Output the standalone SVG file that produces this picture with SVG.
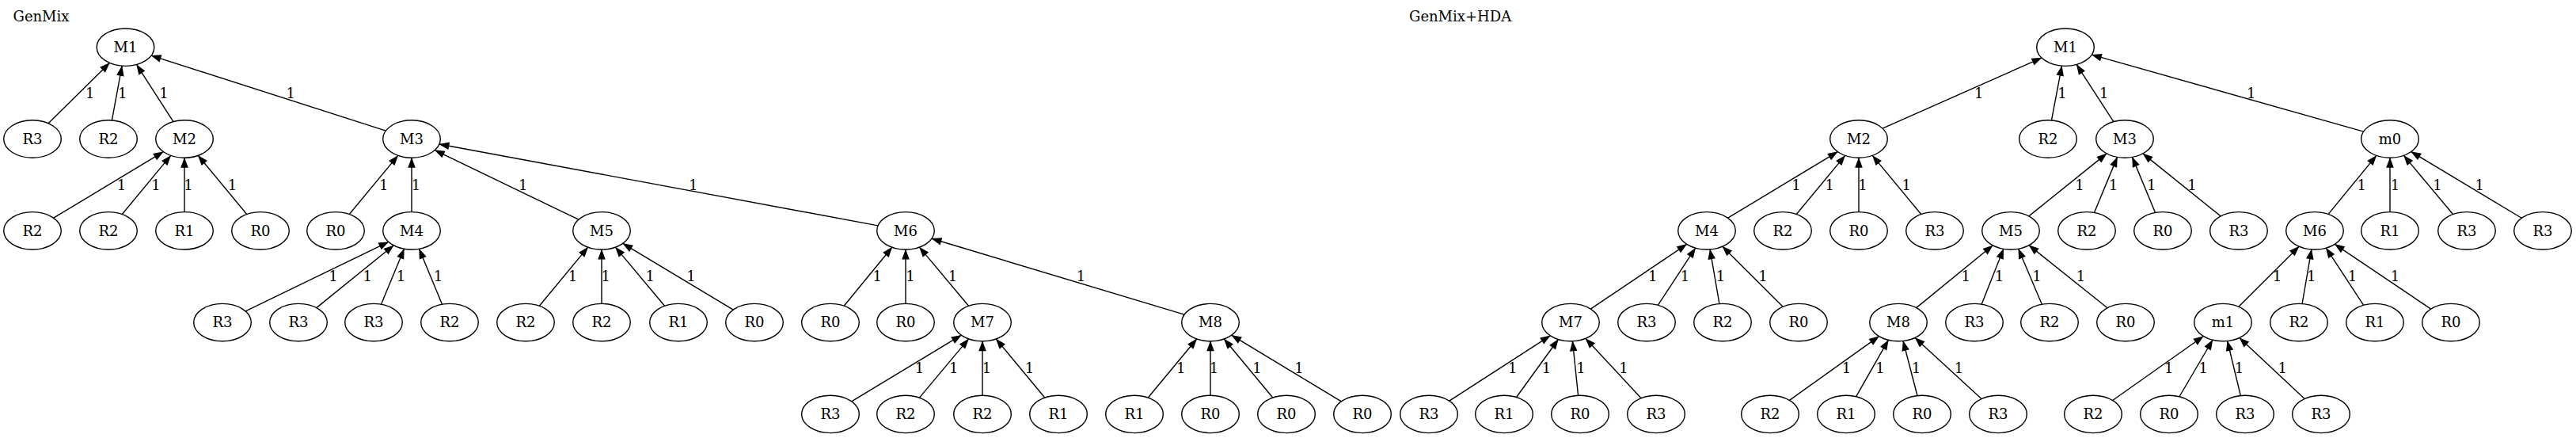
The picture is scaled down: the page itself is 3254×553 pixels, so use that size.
<svg xmlns="http://www.w3.org/2000/svg" width="3254" height="553" viewBox="0 0 3254 553">
<style>
.n ellipse{fill:none;stroke:#000;stroke-width:1.4}
text{font-family:"DejaVu Serif","Liberation Serif",serif;font-size:18px;fill:#000}
.n text{text-anchor:middle}
.e path{fill:none;stroke:#000;stroke-width:1.4;marker-end:url(#a)}
.l text{text-anchor:middle}
</style>
<defs>
<marker id="a" markerUnits="userSpaceOnUse" viewBox="-14 -6 15 12" refX="0" refY="0" markerWidth="15" markerHeight="12" orient="auto" overflow="visible">
<path d="M0.5,0 L-12.5,-4.8 L-12.5,4.8 Z" fill="#000" stroke="none"/>
</marker>
</defs>
<rect width="3254" height="553" fill="#fff"/>
<g opacity="0.999">
<text x="16.5" y="26.5">GenMix</text>
<text x="1780" y="26.5">GenMix+HDA</text>
<g class="e" id="edges">
<path d="M61.05,155.74L138.45,79.46"/>
<path d="M141.37,151.97L154.13,83.23"/>
<path d="M218.94,153.65L172.56,81.55"/>
<path d="M487.43,165.07L191.07,70.13"/>
<path d="M67.67,275.22L206.33,191.58"/>
<path d="M154.28,270.46L215.72,196.34"/>
<path d="M233,267.6L233,199.2"/>
<path d="M311.72,270.46L250.28,196.34"/>
<path d="M441.28,270.46L502.72,196.34"/>
<path d="M520,267.6L520,199.2"/>
<path d="M730.82,277.22L549.18,189.58"/>
<path d="M1109.08,284.82L554.92,181.98"/>
<path d="M310.16,392.97L490.84,305.43"/>
<path d="M399.78,388.65L497.22,309.75"/>
<path d="M481.48,384.22L510.52,314.18"/>
<path d="M558.52,384.22L529.48,314.18"/>
<path d="M681.28,386.26L742.72,312.14"/>
<path d="M760,383.4L760,315"/>
<path d="M839.58,386.3L777.42,312.1"/>
<path d="M926.27,391.06L786.73,307.34"/>
<path d="M1066.14,386.21L1126.86,312.19"/>
<path d="M1144,383.4L1144,315"/>
<path d="M1223.58,386.3L1161.42,312.1"/>
<path d="M1496.04,397.19L1176.96,301.21"/>
<path d="M1075.67,506.82L1214.33,423.18"/>
<path d="M1161.42,502.1L1223.58,427.9"/>
<path d="M1241,499.2L1241,430.8"/>
<path d="M1319.72,502.06L1258.28,427.94"/>
<path d="M1450.28,502.06L1511.72,427.94"/>
<path d="M1529,499.2L1529,430.8"/>
<path d="M1607.72,502.06L1546.28,427.94"/>
<path d="M1694.33,506.82L1555.67,423.18"/>
<path d="M2378.02,162.18L2578.98,73.02"/>
<path d="M2591.47,151.98L2604.53,83.22"/>
<path d="M2669.86,153.67L2623.14,81.53"/>
<path d="M2985.67,166.09L2642.33,69.11"/>
<path d="M2182.67,275.22L2321.33,191.58"/>
<path d="M2269.28,270.46L2330.72,196.34"/>
<path d="M2348,267.6L2348,199.2"/>
<path d="M2426.72,270.46L2365.28,196.34"/>
<path d="M2562.88,272.9L2661.12,193.9"/>
<path d="M2645.48,268.42L2674.52,198.38"/>
<path d="M2722.52,268.42L2693.48,198.38"/>
<path d="M2805.12,272.9L2706.88,193.9"/>
<path d="M2941.14,270.41L3001.86,196.39"/>
<path d="M3019,267.6L3019,199.2"/>
<path d="M3098.58,270.5L3036.42,196.3"/>
<path d="M3185.27,275.26L3045.73,191.54"/>
<path d="M2009.27,390.09L2130.73,308.31"/>
<path d="M2094.3,385.32L2141.7,313.08"/>
<path d="M2171.93,383.55L2160.07,314.85"/>
<path d="M2252.13,387.26L2175.87,311.14"/>
<path d="M2420.69,388.59L2517.31,309.81"/>
<path d="M2503.11,384.16L2530.89,314.24"/>
<path d="M2579.33,384.25L2549.67,314.15"/>
<path d="M2662.02,388.75L2562.98,309.65"/>
<path d="M2827.87,387.26L2904.13,311.14"/>
<path d="M2908.07,383.55L2919.93,314.85"/>
<path d="M2985.7,385.32L2938.3,313.08"/>
<path d="M3070.73,390.09L2949.27,308.31"/>
<path d="M1830.79,506.21L1958.21,423.79"/>
<path d="M1915.54,501.48L1968.46,428.52"/>
<path d="M1993.55,499.25L1986.45,430.75"/>
<path d="M2073.12,502.66L2002.88,427.34"/>
<path d="M2260.48,505.4L2373.52,424.6"/>
<path d="M2344.66,500.69L2385.34,429.31"/>
<path d="M2421.95,499.53L2404.05,430.47"/>
<path d="M2502.97,503.57L2419.03,426.43"/>
<path d="M2668.65,505.5L2783.35,424.5"/>
<path d="M2752.99,500.77L2795.01,429.23"/>
<path d="M2830.34,499.49L2813.66,430.51"/>
<path d="M2911.19,503.47L2828.81,426.53"/>
</g>
<g class="l" id="edge-labels">
<text x="113.7" y="123.8">1</text><text x="154.7" y="123.8">1</text><text x="207" y="123.8">1</text><text x="367.3" y="123.8">1</text>
<text x="153.5" y="239.6">1</text><text x="197" y="239.6">1</text><text x="238" y="239.6">1</text><text x="293.4" y="239.6">1</text>
<text x="484.7" y="239.6">1</text><text x="525.5" y="239.6">1</text><text x="660.7" y="239.6">1</text><text x="875.8" y="239.6">1</text>
<text x="421" y="355.4">1</text><text x="464.3" y="355.4">1</text><text x="506.6" y="355.4">1</text><text x="553.6" y="355.4">1</text>
<text x="723.5" y="355.4">1</text><text x="765.3" y="355.4">1</text><text x="821.2" y="355.4">1</text><text x="872.9" y="355.4">1</text>
<text x="1108.2" y="355.4">1</text><text x="1150" y="355.4">1</text><text x="1203.5" y="355.4">1</text><text x="1365.4" y="355.4">1</text>
<text x="1161.6" y="471.2">1</text><text x="1204.7" y="471.2">1</text><text x="1246.6" y="471.2">1</text><text x="1300.5" y="471.2">1</text>
<text x="1491.7" y="471.2">1</text><text x="1533.6" y="471.2">1</text><text x="1588" y="471.2">1</text><text x="1641" y="471.2">1</text>
<text x="2499.7" y="123.8">1</text><text x="2604.9" y="123.8">1</text><text x="2657.7" y="123.8">1</text><text x="2843.8" y="123.8">1</text>
<text x="2268.9" y="239.6">1</text><text x="2311.2" y="239.6">1</text><text x="2353" y="239.6">1</text><text x="2408.2" y="239.6">1</text>
<text x="2626.9" y="239.6">1</text><text x="2669.5" y="239.6">1</text><text x="2717.7" y="239.6">1</text><text x="2769" y="239.6">1</text>
<text x="2983.3" y="239.6">1</text><text x="3025.4" y="239.6">1</text><text x="3079" y="239.6">1</text><text x="3132.3" y="239.6">1</text>
<text x="2087.8" y="355.4">1</text><text x="2128.6" y="355.4">1</text><text x="2173.5" y="355.4">1</text><text x="2227" y="355.4">1</text>
<text x="2483.3" y="355.4">1</text><text x="2525.4" y="355.4">1</text><text x="2573" y="355.4">1</text><text x="2628.5" y="355.4">1</text>
<text x="2876.6" y="355.4">1</text><text x="2919.7" y="355.4">1</text><text x="2971.5" y="355.4">1</text><text x="3025.4" y="355.4">1</text>
<text x="1910.7" y="471.2">1</text><text x="1953.6" y="471.2">1</text><text x="1997" y="471.2">1</text><text x="2051" y="471.2">1</text>
<text x="2332.6" y="471.2">1</text><text x="2375" y="471.2">1</text><text x="2420.4" y="471.2">1</text><text x="2474.5" y="471.2">1</text>
<text x="2739.7" y="471.2">1</text><text x="2783.3" y="471.2">1</text><text x="2828.4" y="471.2">1</text><text x="2883.3" y="471.2">1</text>
</g>
<g class="n" id="L_M1"><ellipse cx="158.5" cy="59.7" rx="36.3" ry="23.7"/><text x="158.5" y="66">M1</text></g>
<g class="n" id="L_R3_a"><ellipse cx="41" cy="175.5" rx="36.3" ry="23.7"/><text x="41" y="181.8">R3</text></g>
<g class="n" id="L_R2_a"><ellipse cx="137" cy="175.5" rx="36.3" ry="23.7"/><text x="137" y="181.8">R2</text></g>
<g class="n" id="L_M2"><ellipse cx="233" cy="175.5" rx="36.3" ry="23.7"/><text x="233" y="181.8">M2</text></g>
<g class="n" id="L_M3"><ellipse cx="520" cy="175.5" rx="36.3" ry="23.7"/><text x="520" y="181.8">M3</text></g>
<g class="n" id="L_R2_b"><ellipse cx="41" cy="291.3" rx="36.3" ry="23.7"/><text x="41" y="297.6">R2</text></g>
<g class="n" id="L_R2_c"><ellipse cx="137" cy="291.3" rx="36.3" ry="23.7"/><text x="137" y="297.6">R2</text></g>
<g class="n" id="L_R1_a"><ellipse cx="233" cy="291.3" rx="36.3" ry="23.7"/><text x="233" y="297.6">R1</text></g>
<g class="n" id="L_R0_a"><ellipse cx="329" cy="291.3" rx="36.3" ry="23.7"/><text x="329" y="297.6">R0</text></g>
<g class="n" id="L_R0_b"><ellipse cx="424" cy="291.3" rx="36.3" ry="23.7"/><text x="424" y="297.6">R0</text></g>
<g class="n" id="L_M4"><ellipse cx="520" cy="291.3" rx="36.3" ry="23.7"/><text x="520" y="297.6">M4</text></g>
<g class="n" id="L_M5"><ellipse cx="760" cy="291.3" rx="36.3" ry="23.7"/><text x="760" y="297.6">M5</text></g>
<g class="n" id="L_M6"><ellipse cx="1144" cy="291.3" rx="36.3" ry="23.7"/><text x="1144" y="297.6">M6</text></g>
<g class="n" id="L_R3_b"><ellipse cx="281" cy="407.1" rx="36.3" ry="23.7"/><text x="281" y="413.4">R3</text></g>
<g class="n" id="L_R3_c"><ellipse cx="377" cy="407.1" rx="36.3" ry="23.7"/><text x="377" y="413.4">R3</text></g>
<g class="n" id="L_R3_d"><ellipse cx="472" cy="407.1" rx="36.3" ry="23.7"/><text x="472" y="413.4">R3</text></g>
<g class="n" id="L_R2_d"><ellipse cx="568" cy="407.1" rx="36.3" ry="23.7"/><text x="568" y="413.4">R2</text></g>
<g class="n" id="L_R2_e"><ellipse cx="664" cy="407.1" rx="36.3" ry="23.7"/><text x="664" y="413.4">R2</text></g>
<g class="n" id="L_R2_f"><ellipse cx="760" cy="407.1" rx="36.3" ry="23.7"/><text x="760" y="413.4">R2</text></g>
<g class="n" id="L_R1_b"><ellipse cx="857" cy="407.1" rx="36.3" ry="23.7"/><text x="857" y="413.4">R1</text></g>
<g class="n" id="L_R0_c"><ellipse cx="953" cy="407.1" rx="36.3" ry="23.7"/><text x="953" y="413.4">R0</text></g>
<g class="n" id="L_R0_d"><ellipse cx="1049" cy="407.1" rx="36.3" ry="23.7"/><text x="1049" y="413.4">R0</text></g>
<g class="n" id="L_R0_e"><ellipse cx="1144" cy="407.1" rx="36.3" ry="23.7"/><text x="1144" y="413.4">R0</text></g>
<g class="n" id="L_M7"><ellipse cx="1241" cy="407.1" rx="36.3" ry="23.7"/><text x="1241" y="413.4">M7</text></g>
<g class="n" id="L_M8"><ellipse cx="1529" cy="407.1" rx="36.3" ry="23.7"/><text x="1529" y="413.4">M8</text></g>
<g class="n" id="L_R3_e"><ellipse cx="1049" cy="522.9" rx="36.3" ry="23.7"/><text x="1049" y="529.2">R3</text></g>
<g class="n" id="L_R2_g"><ellipse cx="1144" cy="522.9" rx="36.3" ry="23.7"/><text x="1144" y="529.2">R2</text></g>
<g class="n" id="L_R2_h"><ellipse cx="1241" cy="522.9" rx="36.3" ry="23.7"/><text x="1241" y="529.2">R2</text></g>
<g class="n" id="L_R1_c"><ellipse cx="1337" cy="522.9" rx="36.3" ry="23.7"/><text x="1337" y="529.2">R1</text></g>
<g class="n" id="L_R1_d"><ellipse cx="1433" cy="522.9" rx="36.3" ry="23.7"/><text x="1433" y="529.2">R1</text></g>
<g class="n" id="L_R0_f"><ellipse cx="1529" cy="522.9" rx="36.3" ry="23.7"/><text x="1529" y="529.2">R0</text></g>
<g class="n" id="L_R0_g"><ellipse cx="1625" cy="522.9" rx="36.3" ry="23.7"/><text x="1625" y="529.2">R0</text></g>
<g class="n" id="L_R0_h"><ellipse cx="1721" cy="522.9" rx="36.3" ry="23.7"/><text x="1721" y="529.2">R0</text></g>
<g class="n" id="H_M1"><ellipse cx="2609" cy="59.7" rx="36.3" ry="23.7"/><text x="2609" y="66">M1</text></g>
<g class="n" id="H_M2"><ellipse cx="2348" cy="175.5" rx="36.3" ry="23.7"/><text x="2348" y="181.8">M2</text></g>
<g class="n" id="H_R2_a"><ellipse cx="2587" cy="175.5" rx="36.3" ry="23.7"/><text x="2587" y="181.8">R2</text></g>
<g class="n" id="H_M3"><ellipse cx="2684" cy="175.5" rx="36.3" ry="23.7"/><text x="2684" y="181.8">M3</text></g>
<g class="n" id="H_m0"><ellipse cx="3019" cy="175.5" rx="36.3" ry="23.7"/><text x="3019" y="181.8">m0</text></g>
<g class="n" id="H_M4"><ellipse cx="2156" cy="291.3" rx="36.3" ry="23.7"/><text x="2156" y="297.6">M4</text></g>
<g class="n" id="H_R2_b"><ellipse cx="2252" cy="291.3" rx="36.3" ry="23.7"/><text x="2252" y="297.6">R2</text></g>
<g class="n" id="H_R0_a"><ellipse cx="2348" cy="291.3" rx="36.3" ry="23.7"/><text x="2348" y="297.6">R0</text></g>
<g class="n" id="H_R3_a"><ellipse cx="2444" cy="291.3" rx="36.3" ry="23.7"/><text x="2444" y="297.6">R3</text></g>
<g class="n" id="H_M5"><ellipse cx="2540" cy="291.3" rx="36.3" ry="23.7"/><text x="2540" y="297.6">M5</text></g>
<g class="n" id="H_R2_c"><ellipse cx="2636" cy="291.3" rx="36.3" ry="23.7"/><text x="2636" y="297.6">R2</text></g>
<g class="n" id="H_R0_b"><ellipse cx="2732" cy="291.3" rx="36.3" ry="23.7"/><text x="2732" y="297.6">R0</text></g>
<g class="n" id="H_R3_b"><ellipse cx="2828" cy="291.3" rx="36.3" ry="23.7"/><text x="2828" y="297.6">R3</text></g>
<g class="n" id="H_M6"><ellipse cx="2924" cy="291.3" rx="36.3" ry="23.7"/><text x="2924" y="297.6">M6</text></g>
<g class="n" id="H_R1_a"><ellipse cx="3019" cy="291.3" rx="36.3" ry="23.7"/><text x="3019" y="297.6">R1</text></g>
<g class="n" id="H_R3_c"><ellipse cx="3116" cy="291.3" rx="36.3" ry="23.7"/><text x="3116" y="297.6">R3</text></g>
<g class="n" id="H_R3_d"><ellipse cx="3212" cy="291.3" rx="36.3" ry="23.7"/><text x="3212" y="297.6">R3</text></g>
<g class="n" id="H_M7"><ellipse cx="1984" cy="407.1" rx="36.3" ry="23.7"/><text x="1984" y="413.4">M7</text></g>
<g class="n" id="H_R3_e"><ellipse cx="2080" cy="407.1" rx="36.3" ry="23.7"/><text x="2080" y="413.4">R3</text></g>
<g class="n" id="H_R2_d"><ellipse cx="2176" cy="407.1" rx="36.3" ry="23.7"/><text x="2176" y="413.4">R2</text></g>
<g class="n" id="H_R0_c"><ellipse cx="2272" cy="407.1" rx="36.3" ry="23.7"/><text x="2272" y="413.4">R0</text></g>
<g class="n" id="H_M8"><ellipse cx="2398" cy="407.1" rx="36.3" ry="23.7"/><text x="2398" y="413.4">M8</text></g>
<g class="n" id="H_R3_f"><ellipse cx="2494" cy="407.1" rx="36.3" ry="23.7"/><text x="2494" y="413.4">R3</text></g>
<g class="n" id="H_R2_e"><ellipse cx="2589" cy="407.1" rx="36.3" ry="23.7"/><text x="2589" y="413.4">R2</text></g>
<g class="n" id="H_R0_d"><ellipse cx="2685" cy="407.1" rx="36.3" ry="23.7"/><text x="2685" y="413.4">R0</text></g>
<g class="n" id="H_m1"><ellipse cx="2808" cy="407.1" rx="36.3" ry="23.7"/><text x="2808" y="413.4">m1</text></g>
<g class="n" id="H_R2_f"><ellipse cx="2904" cy="407.1" rx="36.3" ry="23.7"/><text x="2904" y="413.4">R2</text></g>
<g class="n" id="H_R1_b"><ellipse cx="3000" cy="407.1" rx="36.3" ry="23.7"/><text x="3000" y="413.4">R1</text></g>
<g class="n" id="H_R0_e"><ellipse cx="3096" cy="407.1" rx="36.3" ry="23.7"/><text x="3096" y="413.4">R0</text></g>
<g class="n" id="H_R3_g"><ellipse cx="1805" cy="522.9" rx="36.3" ry="23.7"/><text x="1805" y="529.2">R3</text></g>
<g class="n" id="H_R1_c"><ellipse cx="1900" cy="522.9" rx="36.3" ry="23.7"/><text x="1900" y="529.2">R1</text></g>
<g class="n" id="H_R0_f"><ellipse cx="1996" cy="522.9" rx="36.3" ry="23.7"/><text x="1996" y="529.2">R0</text></g>
<g class="n" id="H_R3_h"><ellipse cx="2092" cy="522.9" rx="36.3" ry="23.7"/><text x="2092" y="529.2">R3</text></g>
<g class="n" id="H_R2_g"><ellipse cx="2236" cy="522.9" rx="36.3" ry="23.7"/><text x="2236" y="529.2">R2</text></g>
<g class="n" id="H_R1_d"><ellipse cx="2332" cy="522.9" rx="36.3" ry="23.7"/><text x="2332" y="529.2">R1</text></g>
<g class="n" id="H_R0_g"><ellipse cx="2428" cy="522.9" rx="36.3" ry="23.7"/><text x="2428" y="529.2">R0</text></g>
<g class="n" id="H_R3_i"><ellipse cx="2524" cy="522.9" rx="36.3" ry="23.7"/><text x="2524" y="529.2">R3</text></g>
<g class="n" id="H_R2_h"><ellipse cx="2644" cy="522.9" rx="36.3" ry="23.7"/><text x="2644" y="529.2">R2</text></g>
<g class="n" id="H_R0_h"><ellipse cx="2740" cy="522.9" rx="36.3" ry="23.7"/><text x="2740" y="529.2">R0</text></g>
<g class="n" id="H_R3_j"><ellipse cx="2836" cy="522.9" rx="36.3" ry="23.7"/><text x="2836" y="529.2">R3</text></g>
<g class="n" id="H_R3_k"><ellipse cx="2932" cy="522.9" rx="36.3" ry="23.7"/><text x="2932" y="529.2">R3</text></g>
</g>
</svg>
